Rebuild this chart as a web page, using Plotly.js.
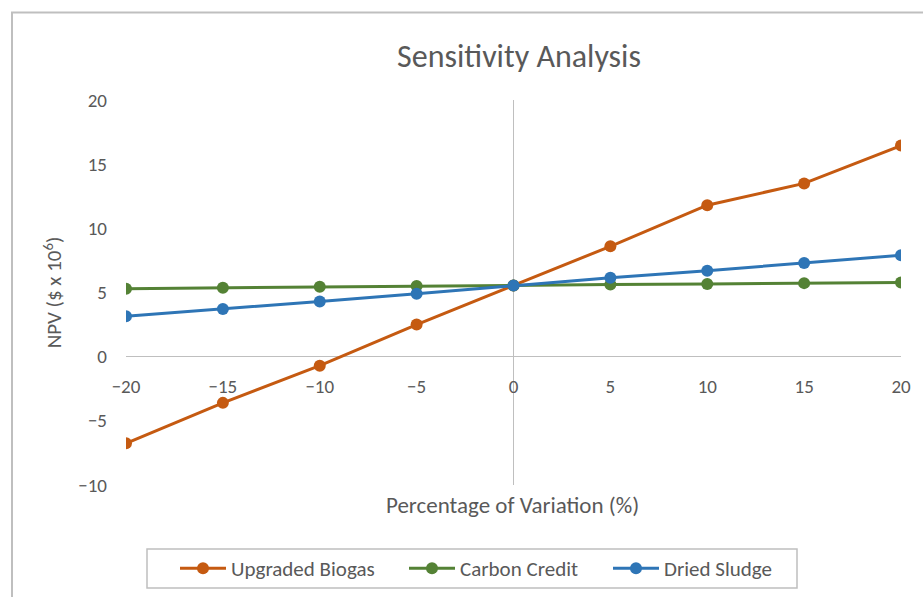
<!DOCTYPE html>
<html>
<head>
<meta charset="utf-8">
<script src="https://cdn.plot.ly/plotly-3.0.1.min.js"></script>
<style>html,body{margin:0;padding:0;background:#fff;}#chart{width:923px;height:597px;}</style>
</head>
<body>
<div id="chart"></div>
<script>
const variation = [-20, -15, -10, -5, 0, 5, 10, 15, 20];
const upgradedBiogas = [-6.75, -3.6, -0.7, 2.5, 5.55, 8.6, 11.8, 13.5, 16.45];
const carbonCredit = [5.3, 5.37, 5.45, 5.5, 5.55, 5.62, 5.66, 5.73, 5.78];
const driedSludge = [3.15, 3.71, 4.3, 4.9, 5.55, 6.15, 6.7, 7.3, 7.9];
const seriesNames = ['Upgraded Biogas', 'Carbon Credit', 'Dried Sludge'];
const xTicks = [-20, -15, -10, -5, 0, 5, 10, 15, 20];
const yTicks = [-10, -5, 0, 5, 10, 15, 20];

const colors = ['#C55A11', '#548235', '#2E75B6'];
const font = 'Carlito, Lato, sans-serif';
const txt = '#595959';

function mk(y, name, c, lg) {
  return {x: variation, y: y, name: name, type: 'scatter', mode: 'lines+markers',
    line: {color: c, width: 3}, marker: {color: c, size: 12}, legend: lg};
}
const data = [
  mk(upgradedBiogas, seriesNames[0], colors[0], 'legend'),
  mk(carbonCredit, seriesNames[1], colors[1], 'legend2'),
  mk(driedSludge, seriesNames[2], colors[2], 'legend3')
];

const W = 775, H = 385, L = 126, T = 100;
function px(x) { return (x - L) / W; }
function py(y) { return (T + H - y) / H; }

function lg(xpix) {
  return {orientation: 'h', x: px(xpix), xanchor: 'left', y: py(568.5), yanchor: 'middle',
    borderwidth: 0, bgcolor: 'rgba(0,0,0,0)', font: {family: font, size: 21, color: txt}, itemwidth: 46};
}

const layout = {
  width: 923, height: 597,
  margin: {l: L, r: 923 - L - W, t: T, b: 597 - T - H, autoexpand: false},
  paper_bgcolor: '#fff', plot_bgcolor: '#fff',
  font: {family: font, color: txt, size: 19},
  title: {text: 'Sensitivity Analysis', font: {family: font, size: 32, color: txt},
    x: px(519), xref: 'paper', xanchor: 'center', y: 1 - 56 / 597, yanchor: 'middle'},
  showlegend: true,
  legend: lg(175),
  legend2: lg(404),
  legend3: lg(608),
  xaxis: {range: [-20, 20], tickvals: xTicks, ticks: '', showgrid: false, showline: false,
    zeroline: true, zerolinecolor: '#BFBFBF', zerolinewidth: 1.5,
    anchor: 'free', position: 1 / 3, ticklabelstandoff: 16,
    tickfont: {family: font, size: 19, color: txt}},
  yaxis: {range: [-10, 20], tickvals: yTicks, ticks: '', showgrid: false, showline: false,
    zeroline: true, zerolinecolor: '#BFBFBF', zerolinewidth: 1.5,
    ticklabelstandoff: 18, tickfont: {family: font, size: 19, color: txt},
    title: {text: 'NPV ($ x 10<sup>6</sup>)', font: {family: font, size: 21, color: txt}, standoff: 10}},
  annotations: [
    {text: 'Percentage of Variation (%)', xref: 'paper', yref: 'paper', x: px(512), y: py(505),
      xanchor: 'center', yanchor: 'middle', showarrow: false, font: {family: font, size: 23, color: txt}}
  ],
  shapes: [
    {type: 'rect', xref: 'paper', yref: 'paper', x0: px(12), x1: px(960), y0: py(640), y1: py(12.5),
      line: {color: '#BFBFBF', width: 2}, fillcolor: 'rgba(0,0,0,0)', layer: 'below'},
    {type: 'rect', xref: 'paper', yref: 'paper', x0: px(147), x1: px(797), y0: py(588), y1: py(549),
      line: {color: '#BFBFBF', width: 1.5}, fillcolor: 'rgba(0,0,0,0)', layer: 'below'}
  ]
};

Plotly.newPlot('chart', data, layout, {displayModeBar: false, staticPlot: true});
</script>
</body>
</html>
